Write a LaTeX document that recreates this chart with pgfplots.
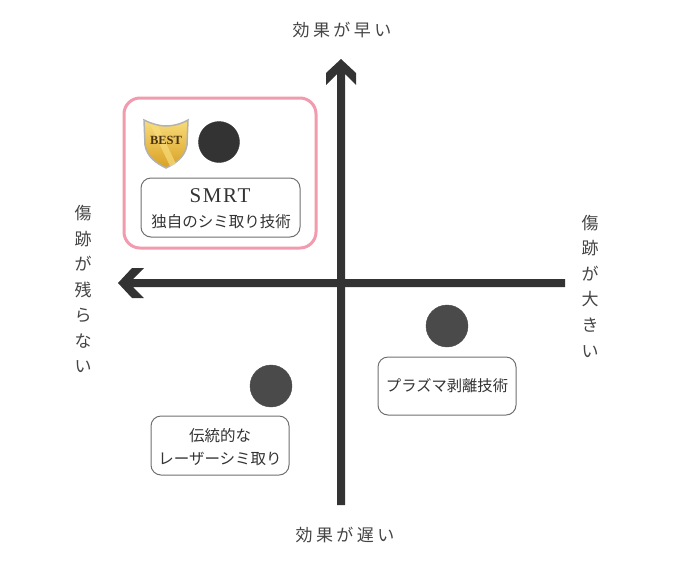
\documentclass[border=0pt]{standalone}
\usepackage{pgfplots}
\pgfplotsset{compat=1.18}
\usepackage{fontspec}
\setmainfont{Liberation Serif}
\newfontfamily\jp{Noto Sans CJK JP}
\newfontfamily\jplab[LetterSpace=20]{Noto Sans CJK JP}
\newfontfamily\smrt[LetterSpace=8]{Liberation Serif}

\definecolor{axisdark}{HTML}{333333}
\definecolor{dotgray}{HTML}{4A4A4A}
\definecolor{bestpink}{HTML}{F29AAE}
\definecolor{boxgray}{HTML}{707070}
\definecolor{labgray}{HTML}{444444}
\definecolor{gold}{HTML}{D9A023}
\definecolor{goldlight}{HTML}{F8DC7A}
\definecolor{bestbrown}{HTML}{4A3410}

% positions of the three methods (pixel grid, y downwards)
\pgfplotstableread{
x y
219 142
}\smrtdata
\pgfplotstableread{
x y
447 326
271 386
}\otherdata

\begin{document}
\begin{tikzpicture}
\begin{axis}[
    width=700pt, height=571pt,
    scale only axis,
    xmin=0, xmax=700, ymin=0, ymax=571,
    y dir=reverse,
    hide axis,
    clip=false,
]
\path (axis cs:0,0) rectangle (axis cs:700,571);

% axes with arrow heads
\fill[axisdark] (axis cs:337,505) -- (axis cs:337,74) -- (axis cs:326,85) -- (axis cs:326,73)
    -- (axis cs:341,59) -- (axis cs:356,73) -- (axis cs:356,85) -- (axis cs:345,74)
    -- (axis cs:345,505) -- cycle;
\fill[axisdark] (axis cs:565,279) -- (axis cs:133,279) -- (axis cs:144,268) -- (axis cs:132,268)
    -- (axis cs:118,283) -- (axis cs:132,298) -- (axis cs:144,298) -- (axis cs:133,287)
    -- (axis cs:565,287) -- cycle;

% axis captions
\node[font=\jplab\fontsize{17}{20}\selectfont, text=labgray] at (axis cs:342,30) {効果が早い};
\node[font=\jplab\fontsize{17}{20}\selectfont, text=labgray] at (axis cs:345,535) {効果が遅い};
\node[align=center, font=\jp\fontsize{17}{25.5}\selectfont, text=labgray] at (axis cs:83,289)
    {傷\\跡\\が\\残\\ら\\な\\い};
\node[align=center, font=\jp\fontsize{17}{25.6}\selectfont, text=labgray] at (axis cs:590,286)
    {傷\\跡\\が\\大\\き\\い};

% best frame
\draw[bestpink, line width=3pt, rounded corners=16pt] (axis cs:124,98) rectangle (axis cs:316,248);

% label boxes
\draw[boxgray, line width=1pt, rounded corners=10pt, fill=white] (axis cs:141,178) rectangle (axis cs:300,237);
\node[font=\smrt\fontsize{21}{24}\selectfont, text=axisdark] at (axis cs:220,196) {SMRT};
\node[font=\jp\fontsize{15.5}{18}\selectfont, text=axisdark] at (axis cs:221,222) {独自のシミ取り技術};

\draw[boxgray, line width=1pt, rounded corners=10pt, fill=white] (axis cs:378,357) rectangle (axis cs:516,415);
\node[font=\jp\fontsize{15.3}{18}\selectfont, text=axisdark] at (axis cs:447,386) {プラズマ剥離技術};

\draw[boxgray, line width=1pt, rounded corners=10pt, fill=white] (axis cs:151,416) rectangle (axis cs:289,475);
\node[align=center, font=\jp\fontsize{15.5}{23}\selectfont, text=axisdark] at (axis cs:220,447)
    {伝統的な\\レーザーシミ取り};

% BEST shield
\draw[gray!60, line width=1.5pt, top color=goldlight, bottom color=gold]
    (axis cs:144,120) .. controls (axis cs:152,124) and (axis cs:160,126) .. (axis cs:166,126)
    .. controls (axis cs:173,126) and (axis cs:181,124) .. (axis cs:188,120)
    -- (axis cs:187,145) .. controls (axis cs:185,157) and (axis cs:176,163) .. (axis cs:166,168)
    .. controls (axis cs:156,163) and (axis cs:147,157) .. (axis cs:145,145) -- cycle;
\fill[goldlight, opacity=0.7] (axis cs:150,124) -- (axis cs:158,126) -- (axis cs:176,164)
    -- (axis cs:170,166) -- cycle;
\node[font=\bfseries\fontsize{12.5}{14}\selectfont, text=bestbrown] at (axis cs:166,140) {BEST};

% method points
\addplot[only marks, mark=*, mark size=20.5pt, color=axisdark] table {\smrtdata};
\addplot[only marks, mark=*, mark size=21pt, color=dotgray] table {\otherdata};
\end{axis}
\end{tikzpicture}
\end{document}
